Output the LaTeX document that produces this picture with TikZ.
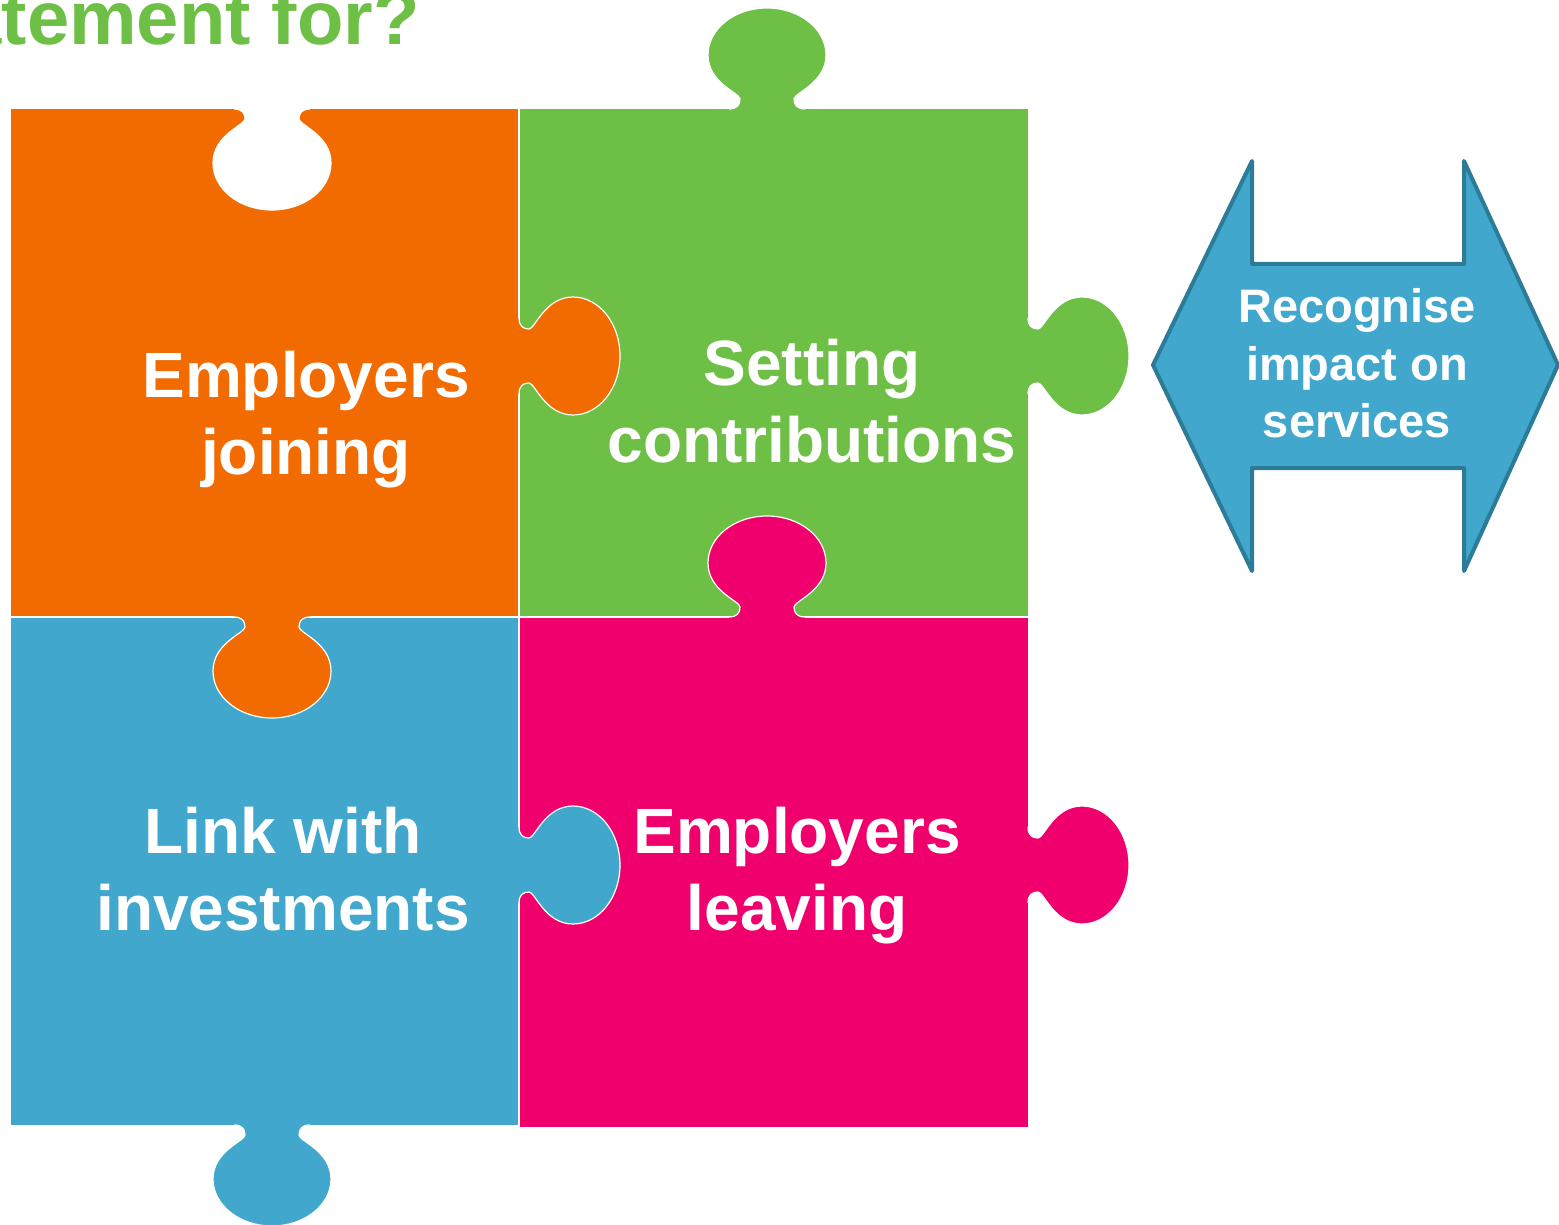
\documentclass[tikz,border=0pt]{standalone}
\usepackage{fontspec}
\setmainfont{Liberation Sans}
\definecolor{porange}{HTML}{F26B00}
\definecolor{pgreen}{HTML}{6DBF45}
\definecolor{pblue}{HTML}{41A7CD}
\definecolor{ppink}{HTML}{F0006C}
\definecolor{arrowfill}{HTML}{41A7CC}
\definecolor{arrowline}{HTML}{2C7B97}
% puzzle tab: colour, x, y, rotation (0 = points up)
\newcommand\ptab[4]{%
  \fill[#1, shift={(#2,#3)}, rotate=#4] (-38,4) -- (-38,0)
    .. controls (-30,0) and (-27,-4) .. (-27,-10)
    .. controls (-27,-16) and (-59,-26) .. (-59,-54)
    .. controls (-59,-80) and (-32.6,-101) .. (0,-101)
    .. controls (32.6,-101) and (59,-80) .. (59,-54)
    .. controls (59,-26) and (27,-16) .. (27,-10)
    .. controls (27,-4) and (30,0) .. (38,0) -- (38,4) -- cycle;
  \draw[white, line width=1.2, shift={(#2,#3)}, rotate=#4] (-38,0)
    .. controls (-30,0) and (-27,-4) .. (-27,-10)
    .. controls (-27,-16) and (-59,-26) .. (-59,-54)
    .. controls (-59,-80) and (-32.6,-101) .. (0,-101)
    .. controls (32.6,-101) and (59,-80) .. (59,-54)
    .. controls (59,-26) and (27,-16) .. (27,-10)
    .. controls (27,-4) and (30,0) .. (38,0);}
\begin{document}
\begin{tikzpicture}[x=1pt, y=-1pt,
  piecetext/.style={text=white, align=center, font=\bfseries\fontsize{64}{77}\selectfont},
  arrowtext/.style={text=white, align=center, font=\bfseries\fontsize{47}{57.5}\selectfont}]
\useasboundingbox (0,0) rectangle (1559,1225);
% pieces
\fill[porange] (11,109) rectangle (519,617);
\fill[pgreen] (519,109) rectangle (1028,617);
\fill[pblue] (11,617) rectangle (519,1125);
\fill[ppink] (519,617) rectangle (1028,1127);
\draw[white, line width=1.2] (519,109) -- (519,1127);
\draw[white, line width=1.2] (11,617) -- (1028,617);
% tabs
\ptab{porange}{519}{356}{-90}
\ptab{porange}{272}{617}{180}
\ptab{white}{272}{109}{180}
\ptab{pgreen}{767}{109}{0}
\ptab{pgreen}{1028}{356}{-90}
\ptab{ppink}{767}{617}{0}
\ptab{ppink}{1028}{865}{-90}
\ptab{pblue}{519}{865}{-90}
\ptab{pblue}{272}{1125}{180}
% texts
\node[anchor=base east, inner sep=0pt, text=pgreen, font=\bfseries\fontsize{76}{80}\selectfont] (title) at (420,45) {atement for?};
\node[piecetext] (join) at (306,420) {Employers\\joining};
\node[piecetext] (contrib) at (812,401.5) {Setting\\contributions};
\node[piecetext] (invest) at (283,869.5) {Link with\\investments};
\node[piecetext] (leave) at (797,876) {Employers\\leaving};
% double arrow
\filldraw[fill=arrowfill, draw=arrowline, line width=4, line join=round]
  (1153,365) -- (1252,161) -- (1252,264) -- (1464,264) -- (1464,161) -- (1558,365)
  -- (1464,571) -- (1464,468) -- (1252,468) -- (1252,571) -- cycle;
\node[arrowtext] (impact) at (1357,363.5) {Recognise\\impact on\\services};
\end{tikzpicture}
\end{document}
